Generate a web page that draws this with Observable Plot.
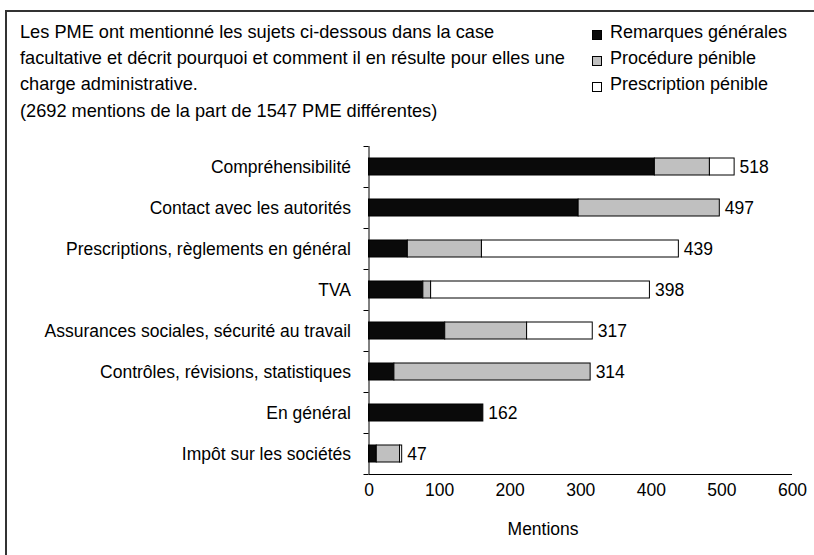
<!DOCTYPE html>
<html>
<head>
<meta charset="utf-8">
<script src="https://cdn.jsdelivr.net/npm/d3@7"></script>
<script src="https://cdn.jsdelivr.net/npm/@observablehq/plot@0.6"></script>
<style>
  html, body { margin: 0; padding: 0; background: #fff; width: 814px; height: 555px; overflow: hidden; }
  body { position: relative; font-family: "Liberation Sans", Arial, sans-serif; color: #000; }
  #frame { position: absolute; left: 5px; top: 10px; width: 900px; height: 700px; border-left: 2px solid #333; border-top: 2px solid #333; }
  #title { position: absolute; left: 20px; top: 19px; font-size: 18.2px; line-height: 26.2px; white-space: nowrap; }
  #legend { position: absolute; left: 592px; top: 19px; font-size: 18px; line-height: 26.2px; white-space: nowrap; }
  .row { position: relative; height: 26.2px; padding-left: 18px; }
  .sw { position: absolute; left: 0; top: 11px; width: 8px; height: 8px; border: 1px solid #000; box-sizing: content-box; }
  #chart { position: absolute; left: 0; top: 0; }
</style>
</head>
<body>
<div id="frame"></div>
<div id="title"></div>
<div id="legend"></div>
<div id="chart"></div>
<script>
const titleLines = [
  "Les PME ont mentionné les sujets ci-dessous dans la case",
  "facultative et décrit pourquoi et comment il en résulte pour elles une",
  "charge administrative.",
  "(2692 mentions de la part de 1547 PME différentes)"
];
const categories = [
  "Compréhensibilité",
  "Contact avec les autorités",
  "Prescriptions, règlements en général",
  "TVA",
  "Assurances sociales, sécurité au travail",
  "Contrôles, révisions, statistiques",
  "En général",
  "Impôt sur les sociétés"
];
const seriesNames = ["Remarques générales", "Procédure pénible", "Prescription pénible"];
const seriesColors = ["#0a0a0a", "#c0c0c0", "#ffffff"];
const remarques = [405, 297, 55, 77, 108, 36, 162, 11];
const procedure = [78, 200, 105, 11, 116, 278, 0, 33];
const prescription = [35, 0, 279, 310, 93, 0, 0, 3];
const totals = [518, 497, 439, 398, 317, 314, 162, 47];
const xTicks = [0, 100, 200, 300, 400, 500, 600];
const xLabel = "Mentions";

document.getElementById("title").innerHTML = titleLines.map(t => `<div>${t}</div>`).join("");
document.getElementById("legend").innerHTML = seriesNames.map((s, k) =>
  `<div class="row"><span class="sw" style="background:${seriesColors[k]}"></span>${s}</div>`).join("");

const seriesValues = [remarques, procedure, prescription];
const rows = [];
categories.forEach((c, i) => {
  seriesNames.forEach((s, k) => {
    const v = seriesValues[k][i];
    if (v > 0) rows.push({i, category: c, series: s, value: v});
  });
});
const idx = d3.range(categories.length);
const bounds = d3.range(-0.5, categories.length, 1);

const chart = Plot.plot({
  width: 814,
  height: 555,
  marginTop: 146,
  marginBottom: 81,
  marginLeft: 368.5,
  marginRight: 22,
  style: {fontFamily: "'Liberation Sans', Arial, sans-serif", fontSize: "17.5px", color: "#000", background: "transparent", overflow: "visible"},
  x: {domain: [0, 600]},
  y: {domain: [-0.5, categories.length - 0.5], reverse: true},
  color: {domain: seriesNames, range: seriesColors},
  marks: [
    Plot.rectX(rows, Plot.stackX({
      x: "value",
      y1: d => d.i - 0.5,
      y2: d => d.i + 0.5,
      fill: "series",
      stroke: "#000",
      strokeWidth: 1,
      insetTop: 12,
      insetBottom: 12
    })),
    Plot.text(idx, {x: i => totals[i], y: i => i, text: i => String(totals[i]), dx: 5, textAnchor: "start", fill: "#000"}),
    Plot.axisY({ticks: idx, tickSize: 0, tickPadding: 18, tickFormat: i => categories[i], fill: "#000"}),
    Plot.axisY({ticks: bounds, tickSize: 5, tickFormat: () => "", label: null, stroke: "#000"}),
    Plot.axisX({ticks: xTicks, tickSize: 0, tickPadding: 9, tickFormat: d => String(d), label: null, fill: "#000"}),
    Plot.ruleX([0], {stroke: "#000"}),
    Plot.ruleY([categories.length - 0.5], {stroke: "#000"}),
    Plot.text([xLabel], {frameAnchor: "bottom", dx: -37.7, dy: 55, lineAnchor: "middle", fill: "#000"})
  ]
});
document.getElementById("chart").appendChild(chart);
</script>
</body>
</html>
